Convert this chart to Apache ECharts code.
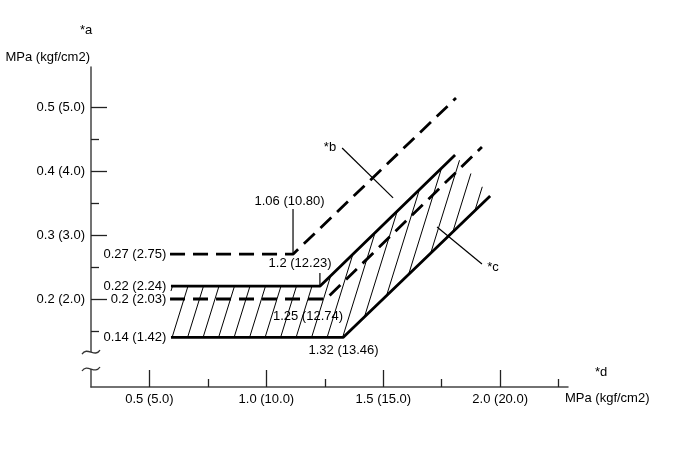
<!DOCTYPE html>
<html>
<head>
<meta charset="utf-8">
<script src="https://cdn.jsdelivr.net/npm/echarts@6/dist/echarts.min.js"></script>
<style>
html,body{margin:0;padding:0;background:#fff;}
#chart{width:691px;height:459px;}
</style>
</head>
<body>
<div id="chart"></div>
<script>
// ---- axis ticks / labels ----
const xMajor = [0.5, 1.0, 1.5, 2.0];
const xMajorLabels = ['0.5 (5.0)', '1.0 (10.0)', '1.5 (15.0)', '2.0 (20.0)'];
const xMinor = [0.75, 1.25, 1.75, 2.25];
const yMajor = [0.2, 0.3, 0.4, 0.5];
const yMajorLabels = ['0.2 (2.0)', '0.3 (3.0)', '0.4 (4.0)', '0.5 (5.0)'];
const yMinor = [0.15, 0.25, 0.35, 0.45];
const yBreak = [0.0906, 0.117];

// ---- characteristic lines [MPa in, MPa out] ----
const upperDashed  = [[0.588, 0.27], [1.114, 0.27], [1.811, 0.514]];
const upperSolid   = [[0.592, 0.22], [1.229, 0.22], [1.807, 0.425]];
const middleDashed = [[0.588, 0.20], [1.255, 0.20], [1.922, 0.4375]];
const lowerSolid   = [[0.592, 0.14], [1.328, 0.14], [1.957, 0.361]];

// ---- value labels at left end of each line ----
const leftLabelText = ['0.27 (2.75)', '0.22 (2.24)', '0.2 (2.03)', '0.14 (1.42)'];
const leftLabelY    = [0.27, 0.22, 0.20, 0.14];
const leftLabelX    = 0.572;

// ---- callouts ----
const calloutText = ['1.06 (10.80)', '1.2 (12.23)', '1.25 (12.74)', '1.32 (13.46)', '*b', '*c'];
const calloutX    = [1.099, 1.144, 1.178, 1.330, 1.272, 1.969];
const calloutY    = [0.353, 0.256, 0.1734, 0.1203, 0.4375, 0.250];

// ---- leader lines [x1, y1, x2, y2] ----
const leaders = [
  [1.114, 0.3406, 1.114, 0.27],
  [1.229, 0.2406, 1.229, 0.22],
  [1.324, 0.436, 1.542, 0.358],
  [1.730, 0.3125, 1.922, 0.2547]
];

const FONT = '"Liberation Sans", Arial, Helvetica, sans-serif';
const chart = echarts.init(document.getElementById('chart'), null, {renderer: 'canvas'});

const hatchPoly = lowerSolid.concat(upperSolid.slice().reverse());

function lineSeries(data, dashed) {
  return {
    type: 'line', data: data, symbol: 'none', silent: true, z: 3,
    lineStyle: {color: '#000', width: 2.8, type: dashed ? [15, 8] : 'solid', cap: 'butt'},
    animation: false
  };
}

const option = {
  animation: false,
  backgroundColor: '#fff',
  grid: {left: 91, top: 67, width: 477, height: 320, containLabel: false},
  xAxis: [{
    type: 'value', min: 0.25, max: 2.29, position: 'bottom',
    axisLine: {show: true, lineStyle: {color: '#444', width: 1.5}},
    axisTick: {show: true, inside: true, length: 17, customValues: xMajor, lineStyle: {color: '#222', width: 1.3}},
    axisLabel: {show: true, customValues: xMajor, margin: 6, color: '#000', fontSize: 13, fontFamily: FONT,
      formatter: v => xMajorLabels[xMajor.findIndex(t => Math.abs(t - v) < 1e-6)] || ''},
    splitLine: {show: false}
  }, {
    type: 'value', min: 0.25, max: 2.29, position: 'bottom',
    axisLine: {show: false},
    axisTick: {show: true, inside: true, length: 8, customValues: xMinor, lineStyle: {color: '#222', width: 1.3}},
    axisLabel: {show: false}, splitLine: {show: false}
  }],
  yAxis: [{
    type: 'value', min: 0.0625, max: 0.5625, position: 'left',
    axisLine: {show: true, lineStyle: {color: '#444', width: 1.5}},
    axisTick: {show: true, inside: true, length: 16, customValues: yMajor, lineStyle: {color: '#222', width: 1.3}},
    axisLabel: {show: true, customValues: yMajor, margin: 6, color: '#000', fontSize: 13, fontFamily: FONT,
      formatter: v => yMajorLabels[yMajor.findIndex(t => Math.abs(t - v) < 1e-6)] || ''},
    splitLine: {show: false}
  }, {
    type: 'value', min: 0.0625, max: 0.5625, position: 'left',
    axisLine: {show: false},
    axisTick: {show: true, inside: true, length: 8, customValues: yMinor, lineStyle: {color: '#222', width: 1.3}},
    axisLabel: {show: false}, splitLine: {show: false}
  }],
  graphic: [
    {type: 'text', left: 80, top: 24, style: {text: '*a', fontSize: 13, fontFamily: FONT, fill: '#000'}},
    {type: 'text', right: 601, top: 51, style: {text: 'MPa (kgf/cm2)', fontSize: 13, fontFamily: FONT, fill: '#000'}},
    {type: 'text', left: 595, top: 366, style: {text: '*d', fontSize: 13, fontFamily: FONT, fill: '#000'}},
    {type: 'text', left: 565, top: 392, style: {text: 'MPa (kgf/cm2)', fontSize: 13, fontFamily: FONT, fill: '#000'}}
  ],
  series: [
    // hatched region between upper and lower solid lines
    {
      type: 'custom', silent: true, z: 2, clip: false,
      data: [0],
      renderItem: function (params, api) {
        const pts = hatchPoly.map(p => api.coord(p));
        const k = 0.31, yb = pts[0][1];
        const uv = pts.map(p => [p[0] - k * (yb - p[1]), p[1]]);
        let umin = Infinity, umax = -Infinity;
        uv.forEach(p => { umin = Math.min(umin, p[0]); umax = Math.max(umax, p[0]); });
        const children = [];
        const step = 15.5;
        for (let c = umin + 1.5; c < umax; c += step) {
          const ys = [];
          for (let i = 0; i < uv.length; i++) {
            const a = uv[i], b = uv[(i + 1) % uv.length];
            if ((c - a[0]) * (c - b[0]) < 0 || (c === a[0] && a[0] !== b[0])) {
              const t = (c - a[0]) / (b[0] - a[0]);
              ys.push(a[1] + t * (b[1] - a[1]));
            }
          }
          ys.sort((m, n) => m - n);
          for (let j = 0; j + 1 < ys.length; j += 2) {
            children.push({
              type: 'line',
              shape: {x1: c + k * (yb - ys[j]), y1: ys[j], x2: c + k * (yb - ys[j + 1]), y2: ys[j + 1]},
              style: {stroke: '#000', lineWidth: 1}
            });
          }
        }
        return {type: 'group', children: children};
      }
    },
    lineSeries(upperDashed, true),
    lineSeries(upperSolid, false),
    lineSeries(middleDashed, true),
    lineSeries(lowerSolid, false),
    // leader lines
    {
      type: 'custom', silent: true, z: 4, clip: false,
      data: leaders,
      renderItem: function (params, api) {
        const p1 = api.coord([api.value(0), api.value(1)]);
        const p2 = api.coord([api.value(2), api.value(3)]);
        return {type: 'line', shape: {x1: p1[0], y1: p1[1], x2: p2[0], y2: p2[1]},
          style: {stroke: '#000', lineWidth: 1.2}};
      }
    },
    // left labels
    {
      type: 'custom', silent: true, z: 5, clip: false,
      data: leftLabelY.map((y, i) => [leftLabelX, y, i]),
      renderItem: function (params, api) {
        const p = api.coord([api.value(0), api.value(1)]);
        return {type: 'text', x: p[0], y: p[1],
          style: {text: leftLabelText[api.value(2)], align: 'right', verticalAlign: 'middle',
            fontSize: 13, fontFamily: FONT, fill: '#000'}};
      }
    },
    // callout labels
    {
      type: 'custom', silent: true, z: 5, clip: false,
      data: calloutX.map((x, i) => [x, calloutY[i], i]),
      renderItem: function (params, api) {
        const p = api.coord([api.value(0), api.value(1)]);
        return {type: 'text', x: p[0], y: p[1],
          style: {text: calloutText[api.value(2)], align: 'center', verticalAlign: 'middle',
            fontSize: 13, fontFamily: FONT, fill: '#000'}};
      }
    },
    // axis break marks
    {
      type: 'custom', silent: true, z: 6, clip: false,
      data: [[0.25, yBreak[0], yBreak[1]]],
      renderItem: function (params, api) {
        const lo = api.coord([api.value(0), api.value(1)]);
        const hi = api.coord([api.value(0), api.value(2)]);
        const x = lo[0];
        const squig = y => ({type: 'bezierCurve',
          shape: {x1: x - 9, y1: y + 2, cpx1: x - 4, cpy1: y - 6, cpx2: x + 4, cpy2: y + 6, x2: x + 9, y2: y - 2},
          style: {stroke: '#333', lineWidth: 1.3, fill: null}});
        return {type: 'group', children: [
          {type: 'rect', shape: {x: x - 3, y: hi[1], width: 6, height: lo[1] - hi[1]}, style: {fill: '#fff'}},
          squig(hi[1]), squig(lo[1])
        ]};
      }
    }
  ]
};
chart.setOption(option);
</script>
</body>
</html>
